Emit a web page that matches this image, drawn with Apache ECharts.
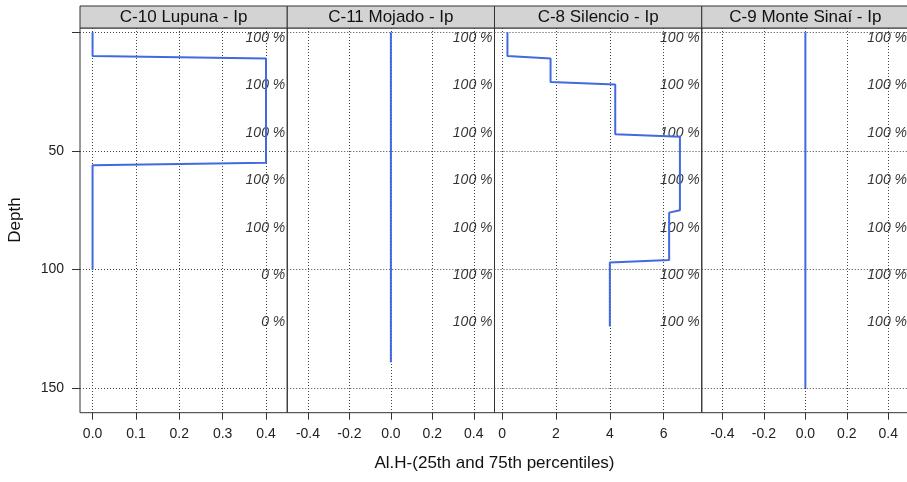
<!DOCTYPE html>
<html>
<head>
<meta charset="utf-8">
<script src="https://cdn.jsdelivr.net/npm/echarts@6/dist/echarts.min.js"></script>
<style>
  html, body { margin: 0; padding: 0; background: #fff; }
  #chart { width: 907px; height: 482px; }
</style>
</head>
<body>
<div id="chart"></div>
<script>
// panel names (strips)
var panelNames = ["C-10 Lupuna - Ip", "C-11 Mojado - Ip", "C-8 Silencio - Ip", "C-9 Monte Sinaí - Ip"];

// profiles: value at each vertex and its depth
var lupunaX = [0, 0, 0.4, 0.4, 0, 0];
var lupunaDepth = [0, 10, 11, 55, 56, 100];
var mojadoX = [0, 0];
var mojadoDepth = [0, 139];
var silencioX = [0.2, 0.2, 1.8, 1.8, 4.2, 4.2, 6.6, 6.6, 6.2, 6.2, 4.0, 4.0];
var silencioDepth = [0, 10, 11, 21, 22, 43, 44, 75, 76, 96, 97, 124];
var sinaiX = [0, 0];
var sinaiDepth = [0, 150];

// percentage annotations
var pctDepth = [0, 20, 40, 60, 80, 100, 120];
var lupunaPct = [100, 100, 100, 100, 100, 0, 0];
var mojadoPct = [100, 100, 100, 100, 100, 100, 100];
var silencioPct = [100, 100, 100, 100, 100, 100, 100];
var sinaiPct = [100, 100, 100, 100, 100, 100, 100];

// ticks
var lupunaTicks = [0, 0.1, 0.2, 0.3, 0.4];
var mojadoTicks = [-0.4, -0.2, 0, 0.2, 0.4];
var silencioTicks = [0, 2, 4, 6];
var sinaiTicks = [-0.4, -0.2, 0, 0.2, 0.4];
var depthTicks = [0, 50, 100, 150];
var depthLabels = [50, 100, 150];

var xTitle = "Al.H-(25th and 75th percentiles)";
var yTitle = "Depth";

var panels = [
  { x: lupunaX, d: lupunaDepth, pct: lupunaPct, ticks: lupunaTicks, min: -0.029, max: 0.449, dec: 1 },
  { x: mojadoX, d: mojadoDepth, pct: mojadoPct, ticks: mojadoTicks, min: -0.5, max: 0.5, dec: 1 },
  { x: silencioX, d: silencioDepth, pct: silencioPct, ticks: silencioTicks, min: -0.28, max: 7.41, dec: 0 },
  { x: sinaiX, d: sinaiDepth, pct: sinaiPct, ticks: sinaiTicks, min: -0.5, max: 0.5, dec: 1 }
];

var FONT = "Liberation Sans, Arial, sans-serif";
var left0 = 80, panelW = 207.25, top0 = 28, panelH = 384.7;
var stripTop = 6, stripH = 22;
var gridLine = { show: true, lineStyle: { color: "#444", type: [1, 2], width: 1 } };

var grids = [], xAxes = [], yAxes = [], series = [], graphics = [];

panels.forEach(function (p, i) {
  var left = left0 + i * panelW;
  grids.push({
    left: left, top: top0, width: panelW, height: panelH, outerBoundsMode: "none",
    show: true, borderColor: "#333", borderWidth: 1, backgroundColor: "transparent"
  });
  xAxes.push({
    type: "value", gridIndex: i, min: p.min, max: p.max, position: "bottom",
    axisLine: { show: false, onZero: false },
    axisTick: { show: true, length: 7, customValues: p.ticks, lineStyle: { color: "#333" } },
    axisLabel: {
      customValues: p.ticks, margin: 14, fontSize: 14, color: "#222", fontFamily: FONT,
      formatter: function (v) { return v.toFixed(p.dec); }
    },
    splitLine: gridLine
  });
  yAxes.push({
    type: "value", gridIndex: i, inverse: true, min: -1.8, max: 160.3, position: "left",
    axisLine: { show: false, onZero: false },
    axisTick: { show: i === 0, length: 8, customValues: depthTicks, lineStyle: { color: "#333" } },
    axisLabel: {
      show: i === 0, customValues: depthLabels, margin: 16, fontSize: 14, color: "#222", fontFamily: FONT
    },
    splitLine: gridLine
  });
  series.push({
    type: "line", xAxisIndex: i, yAxisIndex: i, symbol: "none", silent: true,
    lineStyle: { color: "#4169e1", width: 2 },
    data: p.x.map(function (v, k) { return [v, p.d[k]]; })
  });
  series.push({
    type: "scatter", xAxisIndex: i, yAxisIndex: i, symbolSize: 0, silent: true,
    itemStyle: { color: "#000" },
    label: {
      show: true, position: "left", distance: 2, offset: [0, 5.5],
      fontSize: 14, fontStyle: "italic", color: "#000", fontFamily: FONT,
      formatter: function (q) { return q.value[2] + " %"; }
    },
    data: pctDepth.map(function (d, k) { return [p.max, d, p.pct[k]]; })
  });
  graphics.push({
    type: "rect", silent: true,
    shape: { x: left, y: stripTop, width: panelW, height: stripH },
    style: { fill: "#d3d3d3", stroke: "#333", lineWidth: 1 }
  });
  graphics.push({
    type: "text", silent: true, x: left + panelW / 2, y: stripTop + stripH / 2,
    style: { text: panelNames[i], font: "17px " + FONT, fill: "#111",
             align: "center", verticalAlign: "middle", textAlign: "center", textVerticalAlign: "middle" }
  });
});

graphics.push({
  type: "text", silent: true, x: 494.5, y: 463,
  style: { text: xTitle, font: "17px " + FONT, fill: "#111",
           align: "center", verticalAlign: "middle", textAlign: "center", textVerticalAlign: "middle" }
});
graphics.push({
  type: "text", silent: true, x: 15, y: 220, rotation: Math.PI / 2,
  style: { text: yTitle, font: "17px " + FONT, fill: "#111",
           align: "center", verticalAlign: "middle", textAlign: "center", textVerticalAlign: "middle" }
});

var chart = echarts.init(document.getElementById("chart"), null, { renderer: "canvas" });
chart.setOption({
  animation: false,
  backgroundColor: "#fff",
  grid: grids,
  xAxis: xAxes,
  yAxis: yAxes,
  series: series,
  graphic: graphics
});
</script>
</body>
</html>
